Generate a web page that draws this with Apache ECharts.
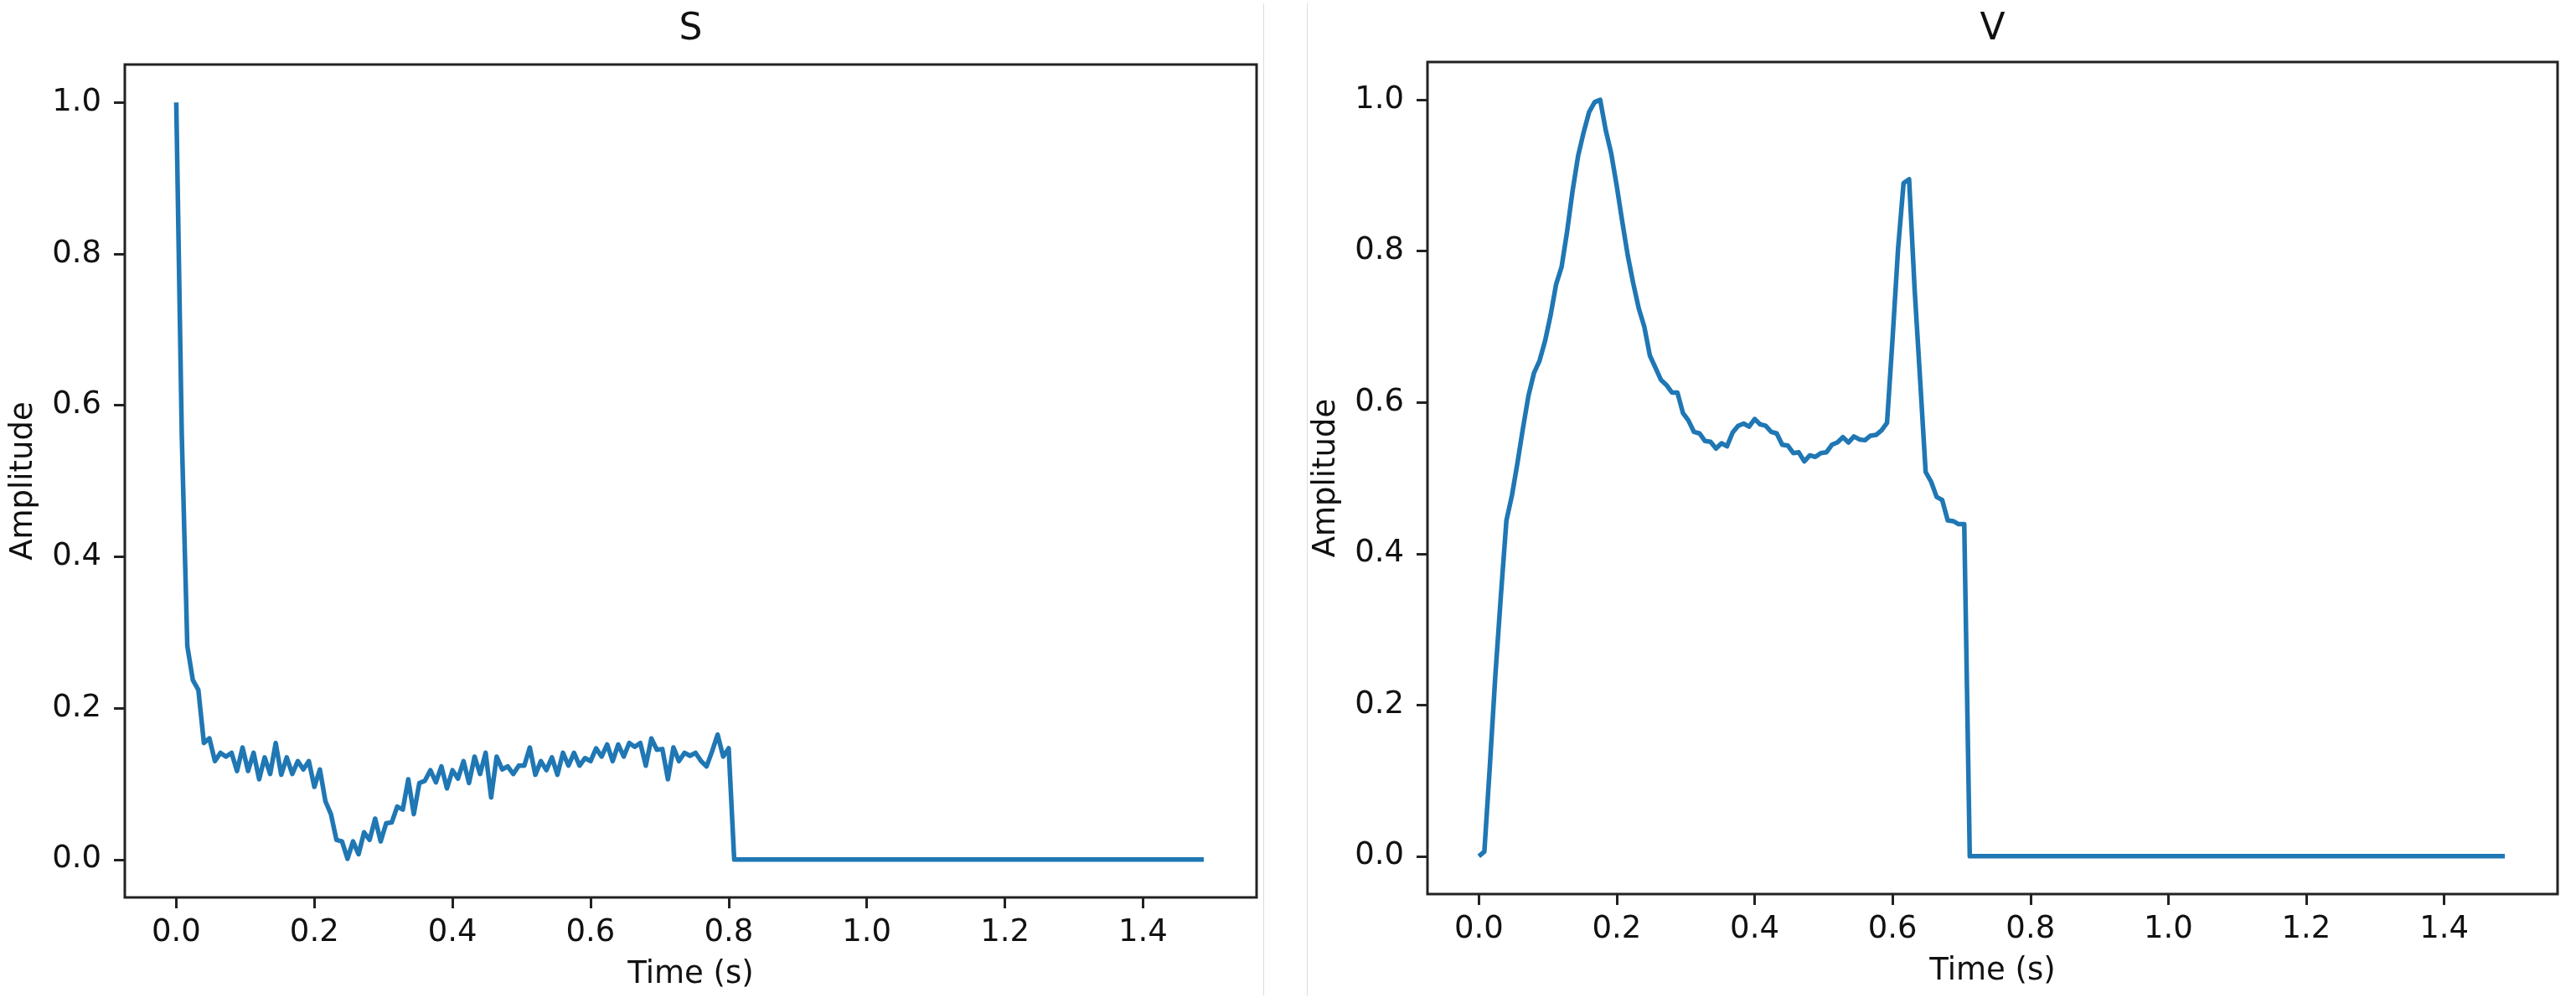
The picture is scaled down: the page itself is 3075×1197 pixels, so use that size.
<!DOCTYPE html>
<html>
<head>
<meta charset="utf-8">
<script src="https://cdn.jsdelivr.net/npm/echarts@6/dist/echarts.min.js"></script>
<style>
html,body{margin:0;padding:0;background:#fff;}
#chart{width:3075px;height:1197px;}
</style>
</head>
<body>
<div id="chart"></div>
<script>
// ---- data ----
const SAMPLE_STEP = 0.008; // seconds between samples
const TITLES = ['S', 'V'];
const X_NAME = 'Time (s)';
const Y_NAME = 'Amplitude';
const X_TICKS = [0, 0.2, 0.4, 0.6, 0.8, 1.0, 1.2, 1.4];
const Y_TICKS = [0, 0.2, 0.4, 0.6, 0.8, 1.0];

const S_VALUES = [
  1.000, 0.560, 0.282, 0.237, 0.224, 0.154, 0.160, 0.130, 0.141, 0.136,
  0.141, 0.117, 0.148, 0.117, 0.141, 0.106, 0.135, 0.113, 0.154, 0.112,
  0.135, 0.113, 0.130, 0.119, 0.130, 0.096, 0.119, 0.077, 0.060, 0.026,
  0.024, 0.001, 0.024, 0.007, 0.036, 0.026, 0.054, 0.024, 0.048, 0.049,
  0.070, 0.066, 0.106, 0.060, 0.101, 0.104, 0.118, 0.102, 0.123, 0.094,
  0.118, 0.107, 0.130, 0.101, 0.136, 0.113, 0.141, 0.082, 0.136, 0.119,
  0.123, 0.113, 0.124, 0.124, 0.148, 0.112, 0.130, 0.118, 0.135, 0.112,
  0.141, 0.124, 0.141, 0.124, 0.134, 0.130, 0.147, 0.136, 0.152, 0.130,
  0.152, 0.136, 0.154, 0.149, 0.154, 0.124, 0.160, 0.145, 0.146, 0.106,
  0.148, 0.130, 0.141, 0.137, 0.141, 0.130, 0.123, 0.143, 0.165, 0.136,
  0.147, 0, 0, 0, 0, 0, 0, 0, 0, 0,
  0, 0, 0, 0, 0, 0, 0, 0, 0, 0,
  0, 0, 0, 0, 0, 0, 0, 0, 0, 0,
  0, 0, 0, 0, 0, 0, 0, 0, 0, 0,
  0, 0, 0, 0, 0, 0, 0, 0, 0, 0,
  0, 0, 0, 0, 0, 0, 0, 0, 0, 0,
  0, 0, 0, 0, 0, 0, 0, 0, 0, 0,
  0, 0, 0, 0, 0, 0, 0, 0, 0, 0,
  0, 0, 0, 0, 0, 0, 0
];

const V_VALUES = [
  0.000, 0.006, 0.120, 0.240, 0.345, 0.444, 0.477, 0.520, 0.566, 0.609,
  0.639, 0.655, 0.681, 0.715, 0.756, 0.779, 0.826, 0.880, 0.926, 0.957,
  0.984, 0.997, 1.000, 0.960, 0.929, 0.886, 0.839, 0.794, 0.757, 0.724,
  0.700, 0.662, 0.646, 0.630, 0.623, 0.613, 0.613, 0.586, 0.576, 0.561,
  0.559, 0.549, 0.548, 0.539, 0.546, 0.542, 0.560, 0.569, 0.572, 0.568,
  0.578, 0.571, 0.569, 0.561, 0.559, 0.544, 0.543, 0.533, 0.534, 0.522,
  0.530, 0.528, 0.533, 0.534, 0.544, 0.547, 0.554, 0.547, 0.555, 0.551,
  0.550, 0.556, 0.557, 0.563, 0.573, 0.684, 0.803, 0.890, 0.895, 0.750,
  0.630, 0.508, 0.495, 0.475, 0.471, 0.444, 0.443, 0.439, 0.439, 0,
  0, 0, 0, 0, 0, 0, 0, 0, 0, 0,
  0, 0, 0, 0, 0, 0, 0, 0, 0, 0,
  0, 0, 0, 0, 0, 0, 0, 0, 0, 0,
  0, 0, 0, 0, 0, 0, 0, 0, 0, 0,
  0, 0, 0, 0, 0, 0, 0, 0, 0, 0,
  0, 0, 0, 0, 0, 0, 0, 0, 0, 0,
  0, 0, 0, 0, 0, 0, 0, 0, 0, 0,
  0, 0, 0, 0, 0, 0, 0, 0, 0, 0,
  0, 0, 0, 0, 0, 0, 0, 0, 0, 0,
  0, 0, 0, 0, 0, 0, 0
];

// ---- build ----
const FONT = 'DejaVu Sans';
const TEXT_COLOR = '#111';
const LINE_COLOR = '#1f77b4';

function toPairs(vals) {
  return vals.map((v, i) => [+(i * SAMPLE_STEP).toFixed(4), v]);
}

const grids = [
  { left: 149, top: 77, width: 1351, height: 994 },
  { left: 1704, top: 74, width: 1349, height: 993 }
];

function xAxis(gi) {
  return {
    type: 'value', gridIndex: gi, min: -0.0745, max: 1.5645,
    position: 'bottom',
    name: X_NAME, nameLocation: 'middle', nameGap: 74,
    nameTextStyle: { fontFamily: FONT, fontSize: 37, color: TEXT_COLOR },
    axisLine: { show: false, onZero: false },
    axisTick: { show: true, inside: false, length: 13, customValues: X_TICKS,
      lineStyle: { color: '#222', width: 3 } },
    axisLabel: { show: true, customValues: X_TICKS, margin: 24,
      formatter: v => v.toFixed(1),
      fontFamily: FONT, fontSize: 37, color: TEXT_COLOR },
    splitLine: { show: false }
  };
}
function yAxis(gi) {
  return {
    type: 'value', gridIndex: gi, min: -0.05, max: 1.05,
    position: 'left',
    name: Y_NAME, nameLocation: 'middle', nameGap: 102,
    nameTextStyle: { fontFamily: FONT, fontSize: 37, color: TEXT_COLOR },
    axisLine: { show: false, onZero: false },
    axisTick: { show: true, inside: false, length: 13, customValues: Y_TICKS,
      lineStyle: { color: '#222', width: 3 } },
    axisLabel: { show: true, customValues: Y_TICKS, margin: 28,
      formatter: v => v.toFixed(1),
      fontFamily: FONT, fontSize: 37, color: TEXT_COLOR },
    splitLine: { show: false }
  };
}

const option = {
  backgroundColor: '#ffffff',
  animation: false,
  title: TITLES.map((t, gi) => ({
    text: t,
    left: grids[gi].left + grids[gi].width / 2,
    top: 14,
    textAlign: 'center',
    padding: 0,
    textStyle: { fontFamily: FONT, fontSize: 44, fontWeight: 'normal', color: TEXT_COLOR }
  })),
  grid: grids.map(g => Object.assign({ show: true, borderColor: '#222', borderWidth: 3,
    backgroundColor: 'transparent', containLabel: false }, g)),
  xAxis: [xAxis(0), xAxis(1)],
  yAxis: [yAxis(0), yAxis(1)],
  series: [
    { type: 'line', xAxisIndex: 0, yAxisIndex: 0, data: toPairs(S_VALUES),
      showSymbol: false, symbol: 'none', clip: true,
      lineStyle: { color: LINE_COLOR, width: 5.5, join: 'round' } },
    { type: 'line', xAxisIndex: 1, yAxisIndex: 1, data: toPairs(V_VALUES),
      showSymbol: false, symbol: 'none', clip: true,
      lineStyle: { color: LINE_COLOR, width: 5.5, join: 'round' } }
  ],
  graphic: [
    { type: 'line', shape: { x1: 1508.5, y1: 4, x2: 1508.5, y2: 1188 },
      style: { stroke: '#dcdcdc', lineWidth: 1 }, silent: true },
    { type: 'line', shape: { x1: 1560.5, y1: 4, x2: 1560.5, y2: 1188 },
      style: { stroke: '#dcdcdc', lineWidth: 1 }, silent: true }
  ]
};

const chart = echarts.init(document.getElementById('chart'), null, { renderer: 'canvas' });
chart.setOption(option);
</script>
</body>
</html>
